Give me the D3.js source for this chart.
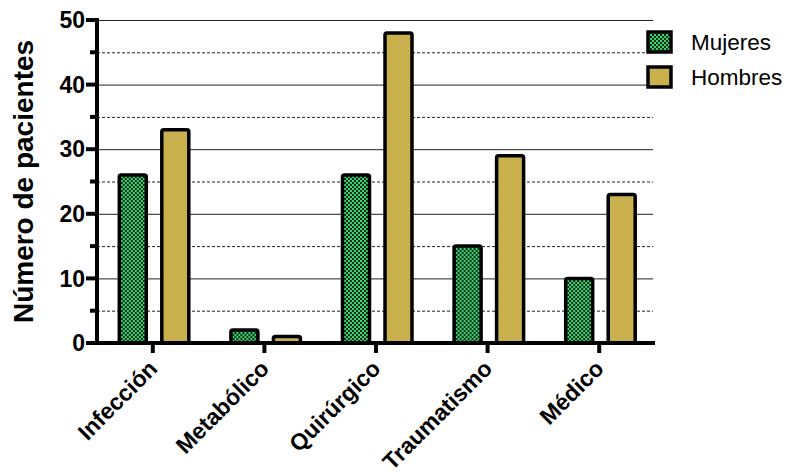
<!DOCTYPE html>
<html>
<head>
<meta charset="utf-8">
<script src="https://cdn.jsdelivr.net/npm/d3@7/dist/d3.min.js"></script>
<style>
  html, body { margin: 0; padding: 0; background: #fff; }
  svg { display: block; font-family: "Liberation Sans", Arial, Helvetica, sans-serif; }
</style>
</head>
<body>
<svg id="chart" width="797" height="475"></svg>
<script>
// Patients per admission cause, split by sex
const categories = ["Infección", "Metabólico", "Quirúrgico", "Traumatismo", "Médico"];
const seriesNames = ["Mujeres", "Hombres"];
const mujeres = [26, 2, 26, 15, 10];
const hombres = [33, 1, 48, 29, 23];
const majorTicks = [0, 10, 20, 30, 40, 50];
const minorTicks = [5, 15, 25, 35, 45];
const yTitle = "Número de pacientes";

const svg = d3.select("#chart");
const margin = { left: 97, right: 142, top: 20, bottom: 132 };
const W = 797, H = 475;

const x = d3.scaleBand().domain(categories).range([margin.left, W - margin.right]).paddingInner(0).paddingOuter(0);
const x1 = d3.scaleBand().domain(seriesNames).range([-33.5, 36]).paddingInner(0.365);
const y = d3.scaleLinear().domain([0, 50]).range([H - margin.bottom, margin.top]);

// checkered fills
const defs = svg.append("defs");
function checker(id, c1, c2) {
  const p = defs.append("pattern").attr("id", id).attr("patternUnits", "userSpaceOnUse")
    .attr("x", 0).attr("y", 0).attr("width", 4).attr("height", 4);
  p.append("rect").attr("width", 4).attr("height", 4).attr("fill", c1);
  p.append("rect").attr("width", 2).attr("height", 2).attr("fill", c2);
  p.append("rect").attr("x", 2).attr("y", 2).attr("width", 2).attr("height", 2).attr("fill", c2);
}
checker("pat-m", "#0c2a14", "#34d676");
checker("pat-h", "#dda24e", "#b6bf4e");
const fills = { "Mujeres": "url(#pat-m)", "Hombres": "url(#pat-h)" };

const x0 = margin.left, x1End = W - margin.right - 2;

// grid lines
svg.append("g").selectAll("line").data(majorTicks.filter(d => d > 0)).join("line")
  .attr("x1", x0).attr("x2", x1End).attr("y1", d => y(d) + 0.5).attr("y2", d => y(d) + 0.5)
  .attr("stroke", "#222").attr("stroke-width", 1);
svg.append("g").selectAll("line").data(minorTicks).join("line")
  .attr("x1", x0).attr("x2", x1End).attr("y1", d => y(d) + 0.5).attr("y2", d => y(d) + 0.5)
  .attr("stroke", "#222").attr("stroke-width", 1).attr("stroke-dasharray", "3,2");

// bars
const rows = categories.map((c, i) => ({ cat: c, vals: [
  { s: "Mujeres", v: mujeres[i] }, { s: "Hombres", v: hombres[i] } ] }));
const groups = svg.append("g").selectAll("g").data(rows).join("g")
  .attr("transform", d => `translate(${x(d.cat) + x.bandwidth() / 2},0)`);
groups.selectAll("rect").data(d => d.vals).join("rect")
  .attr("x", d => x1(d.s)).attr("width", x1.bandwidth())
  .attr("y", d => y(d.v)).attr("height", d => y(0) - y(d.v))
  .attr("rx", 2)
  .attr("fill", d => fills[d.s]).attr("stroke", "#000").attr("stroke-width", 3.5);

// y axis
const yAxis = svg.append("g");
yAxis.append("line").attr("x1", x0).attr("x2", x0).attr("y1", y(50) - 2).attr("y2", y(0) + 2)
  .attr("stroke", "#000").attr("stroke-width", 4);
yAxis.selectAll(".maj").data(majorTicks).join("line").attr("class", "maj")
  .attr("x1", x0 - 11).attr("x2", x0).attr("y1", d => y(d)).attr("y2", d => y(d))
  .attr("stroke", "#000").attr("stroke-width", 4);
yAxis.selectAll(".min").data(minorTicks).join("line").attr("class", "min")
  .attr("x1", x0 - 7).attr("x2", x0).attr("y1", d => y(d)).attr("y2", d => y(d))
  .attr("stroke", "#000").attr("stroke-width", 4);
yAxis.selectAll("text").data(majorTicks).join("text")
  .attr("x", x0 - 12).attr("y", d => y(d)).attr("dy", "0.36em")
  .attr("text-anchor", "end").attr("font-size", 23).attr("font-weight", "bold")
  .text(d => d);

svg.append("text").attr("transform", `translate(33,${(y(0) + y(50)) / 2}) rotate(-90)`)
  .attr("text-anchor", "middle").attr("font-size", 28).attr("font-weight", "bold")
  .text(yTitle);

// x axis
const xAxis = svg.append("g");
xAxis.append("line").attr("x1", x0 - 11).attr("x2", W - margin.right).attr("y1", y(0)).attr("y2", y(0))
  .attr("stroke", "#000").attr("stroke-width", 4);
xAxis.selectAll(".tk").data(categories).join("line").attr("class", "tk")
  .attr("x1", d => x(d) + x.bandwidth() / 2).attr("x2", d => x(d) + x.bandwidth() / 2)
  .attr("y1", y(0)).attr("y2", y(0) + 10)
  .attr("stroke", "#000").attr("stroke-width", 4);
xAxis.selectAll("text").data(categories).join("text")
  .attr("transform", d => `translate(${x(d) + x.bandwidth() / 2 + 6},${y(0) + 27}) rotate(-45)`)
  .attr("text-anchor", "end").attr("font-size", 23).attr("font-weight", "bold")
  .text(d => d);

// legend
const legend = svg.append("g").selectAll("g").data(seriesNames).join("g")
  .attr("transform", (d, i) => `translate(648,${32 + i * 35})`);
legend.append("rect").attr("width", 23).attr("height", 20)
  .attr("fill", d => fills[d]).attr("stroke", "#000").attr("stroke-width", 3.5);
legend.append("text").attr("x", 43).attr("y", 10).attr("dy", "0.36em")
  .attr("font-size", 22.5).text(d => d);
</script>
</body>
</html>
